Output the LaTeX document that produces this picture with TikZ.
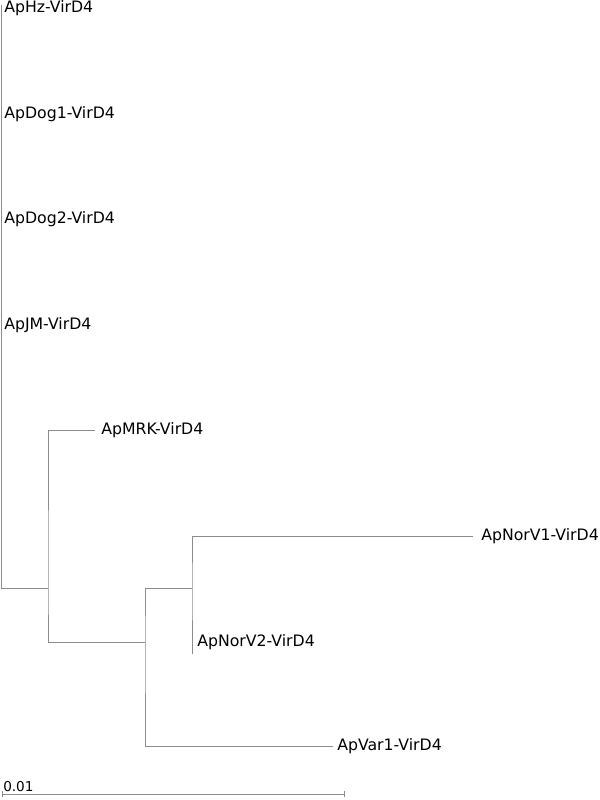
\documentclass[tikz,border=0pt]{standalone}
\usepackage{fontspec}
\setmainfont{DejaVu Sans}
\begin{document}
\begin{tikzpicture}[x=0.75pt,y=-0.75pt,
  branch/.style={draw=black!45,line width=0.75pt},
  leaf/.style={anchor=west,inner sep=0pt,font=\fontsize{11.8pt}{13.5pt}\selectfont,text=black}]
\useasboundingbox (0,0) rectangle (600,800);
% internal nodes
\coordinate (root) at (1,588);
\coordinate (n1) at (48,588);
\coordinate (n2) at (145,642);
\coordinate (n3) at (192,588);
% tips
\coordinate (thz) at (1,5);
\coordinate (tmrk) at (95,430);
\coordinate (tnv1) at (473,536);
\coordinate (tnv2) at (192,654);
\coordinate (tvar) at (333,746);
% labels
\node[leaf] (hz) at (4,8) {ApHz-VirD4};
\node[leaf] (dog1) at (4,114) {ApDog1-VirD4};
\node[leaf] (dog2) at (4,219) {ApDog2-VirD4};
\node[leaf] (jm) at (4,325) {ApJM-VirD4};
\node[leaf] (mrk) at (101,430) {ApMRK-VirD4};
\node[leaf] (nv1) at (481,536) {ApNorV1-VirD4};
\node[leaf] (nv2) at (197,642) {ApNorV2-VirD4};
\node[leaf] (var) at (337,746) {ApVar1-VirD4};
% branches
\draw[branch] (thz) -- (root) -- (n1);
\draw[branch] (tmrk) -| (n1) |- (n2);
\draw[branch] (n3) -| (n2) |- (tvar);
\draw[branch] (tnv1) -| (n3) -- (tnv2);
% scale bar
\coordinate (sa) at (2,794);
\coordinate (sb) at (344,794);
\draw[branch] (sa) -- (sb);
\draw[branch] ([yshift=2.2pt]sa) -- ([yshift=-2.2pt]sa);
\draw[branch] ([yshift=2.2pt]sb) -- ([yshift=-2.2pt]sb);
\node[leaf,anchor=base west,font=\fontsize{10.2pt}{12pt}\selectfont] (sl) at (3,791) {0.01};
\end{tikzpicture}
\end{document}
